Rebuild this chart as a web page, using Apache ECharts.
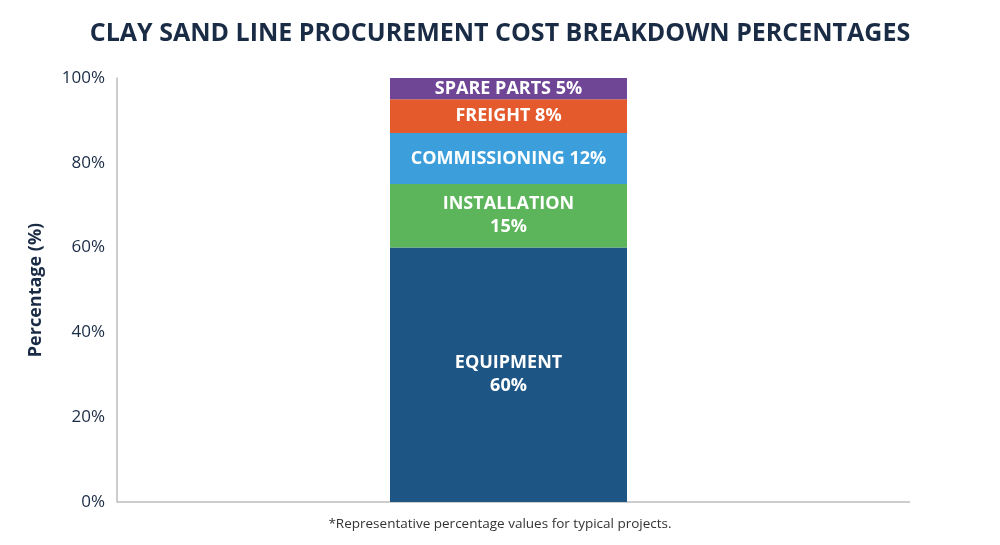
<!DOCTYPE html>
<html>
<head>
<meta charset="utf-8">
<script src="https://cdn.jsdelivr.net/npm/echarts@6/dist/echarts.min.js"></script>
<style>
  html, body { margin: 0; padding: 0; background: #fff; }
  #chart { width: 1000px; height: 545px; }
</style>
</head>
<body>
<div id="chart"></div>
<script>
// stacked components, bottom to top
var segments = ['EQUIPMENT', 'INSTALLATION', 'COMMISSIONING', 'FREIGHT', 'SPARE PARTS'];
var shares = [60, 15, 12, 8, 5];
var colors = ['#1d5585', '#5cb55a', '#3c9fdb', '#e45a2c', '#6f4595'];
var twoLine = [true, true, false, false, false];
var yTicks = [0, 20, 40, 60, 80, 100];

var FONT = '"Open Sans", "DejaVu Sans", sans-serif';
var NAVY = '#1a2b45';

var chart = echarts.init(document.getElementById('chart'));

var series = segments.map(function (name, i) {
    return {
        name: name,
        type: 'bar',
        stack: 'total',
        barWidth: 237,
        data: [shares[i]],
        itemStyle: { color: colors[i] },
        label: {
            show: true,
            position: 'inside',
            color: '#ffffff',
            fontFamily: FONT,
            fontWeight: 'bold',
            fontSize: 18,
            lineHeight: 23,
            formatter: function () {
                return twoLine[i] ? name + '\n' + shares[i] + '%' : name + ' ' + shares[i] + '%';
            }
        }
    };
});

var option = {
    animation: false,
    title: {
        text: 'CLAY SAND LINE PROCUREMENT COST BREAKDOWN PERCENTAGES',
        left: 'center',
        top: 16,
        textStyle: { fontFamily: FONT, fontWeight: 'bold', fontSize: 25, color: NAVY }
    },
    graphic: [{
        type: 'text',
        left: 'center',
        top: 517,
        style: {
            text: '*Representative percentage values for typical projects.',
            font: '13.5px ' + FONT,
            fill: '#333'
        }
    }, {
        // baseline runs a little past the bar area on the right, as in the original
        type: 'line',
        shape: { x1: 117, y1: 502, x2: 910, y2: 502 },
        style: { stroke: '#bdbdbd', lineWidth: 1.5 }
    }],
    grid: { left: 117, right: 100, top: 78, bottom: 43 },
    xAxis: {
        type: 'category',
        data: ['Cost'],
        axisLine: { show: false },
        axisTick: { show: false },
        axisLabel: { show: false }
    },
    yAxis: {
        type: 'value',
        min: yTicks[0],
        max: yTicks[yTicks.length - 1],
        interval: 20,
        name: 'Percentage (%)',
        nameLocation: 'middle',
        nameGap: 72,
        nameTextStyle: { fontFamily: FONT, fontSize: 18, fontWeight: 'bold', color: NAVY },
        axisLine: { show: true, lineStyle: { color: '#bdbdbd', width: 1.5 } },
        axisTick: { show: false },
        splitLine: { show: false },
        axisLabel: {
            formatter: '{value}%',
            fontFamily: FONT,
            fontSize: 17,
            color: NAVY,
            margin: 12
        }
    },
    series: series
};

chart.setOption(option);
</script>
</body>
</html>
